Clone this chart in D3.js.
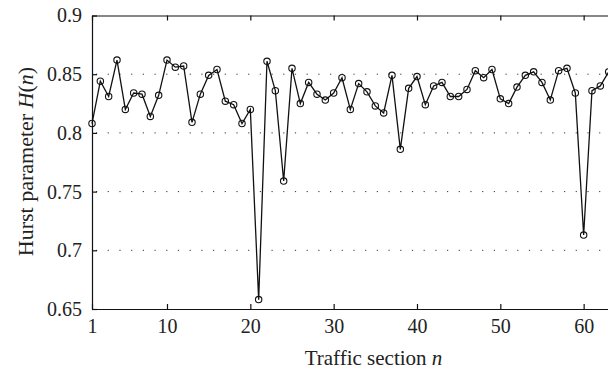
<!DOCTYPE html>
<html>
<head>
<meta charset="utf-8">
<script src="https://cdn.jsdelivr.net/npm/d3@7"></script>
<style>
  body { margin: 0; background: #fff; }
  svg { display: block; overflow: hidden; }
</style>
</head>
<body>
<div id="holder"></div>
<script>
// traffic sections and their Hurst parameter
var sections = d3.range(1, 64);
var hurst = [
  0.808, 0.844, 0.831, 0.862, 0.820, 0.834, 0.833, 0.814, 0.832, 0.862,
  0.856, 0.857, 0.809, 0.833, 0.849, 0.854, 0.827, 0.824, 0.808, 0.820,
  0.658, 0.861, 0.836, 0.759, 0.855, 0.825, 0.843, 0.833, 0.828, 0.834,
  0.847, 0.820, 0.842, 0.835, 0.823, 0.817, 0.849, 0.786, 0.838, 0.848,
  0.824, 0.840, 0.843, 0.831, 0.831, 0.837, 0.853, 0.847, 0.854, 0.829,
  0.825, 0.839, 0.849, 0.852, 0.843, 0.828, 0.853, 0.855, 0.834, 0.713,
  0.836, 0.840, 0.852
];
var xTicks = [1, 10, 20, 30, 40, 50, 60];
var yTicks = [0.65, 0.7, 0.75, 0.8, 0.85, 0.9];
var gridValues = [0.7, 0.75, 0.8, 0.85];

var data = sections.map(function(n, i) { return {n: n, h: hurst[i]}; });
var serif = "'Liberation Serif', 'Times New Roman', serif";

// define svg width, height, margins
var margin = {top: 15.5, right: 0, bottom: 62, left: 92},
    width = 608 - margin.left,
    height = 371 - margin.top - margin.bottom;

var svg = d3.select("#holder")
            .append("svg")
            .attr("width", 608)
            .attr("height", 371)
            .append("g")
            .attr("transform", "translate(" + margin.left + "," + margin.top + ")");

// the plot box runs past the right edge of the picture
var x = d3.scaleLinear().domain([1, 64]).range([0, 63 * 8.333]);
var y = d3.scaleLinear().domain([0.65, 0.9]).range([height, 0]);

// dotted grid
svg.append("g")
   .selectAll("line")
   .data(gridValues)
   .enter()
   .append("line")
   .attr("x1", 0)
   .attr("x2", x(64))
   .attr("y1", d => y(d))
   .attr("y2", d => y(d))
   .attr("stroke", "#333")
   .attr("stroke-width", 1)
   .attr("stroke-dasharray", "1.2,10.5")
   .attr("stroke-dashoffset", -4);

// axes with inward ticks
var xAxisBottom = svg.append("g")
   .attr("transform", "translate(0," + height + ")")
   .call(d3.axisBottom(x).tickValues(xTicks).tickSize(-5).tickSizeOuter(0).tickPadding(10));
var xAxisTop = svg.append("g")
   .call(d3.axisTop(x).tickValues(xTicks).tickSize(-5).tickSizeOuter(0).tickFormat(""));
var yAxis = svg.append("g")
   .call(d3.axisLeft(y).tickValues(yTicks).tickSize(-5).tickSizeOuter(0).tickPadding(10)
           .tickFormat(d => String(d)));

[xAxisBottom, xAxisTop, yAxis].forEach(function(g) {
  g.attr("font-family", null);
  g.select(".domain").attr("stroke", "#111").attr("stroke-width", 1.2);
  g.selectAll(".tick line").attr("stroke", "#111").attr("stroke-width", 1.2);
  g.selectAll(".tick text")
   .style("font-family", serif)
   .style("font-size", "20px")
   .attr("fill", "#222");
});

// line and markers
svg.append("path")
   .datum(data)
   .attr("fill", "none")
   .attr("stroke", "#111")
   .attr("stroke-width", 1.3)
   .attr("d", d3.line().x(d => x(d.n)).y(d => y(d.h)));

svg.append("g")
   .selectAll("circle")
   .data(data)
   .enter()
   .append("circle")
   .attr("cx", d => x(d.n))
   .attr("cy", d => y(d.h))
   .attr("r", 3.2)
   .attr("fill", "none")
   .attr("stroke", "#111")
   .attr("stroke-width", 1.1);

// axis titles
svg.append("text")
   .attr("x", 373.5 - margin.left)
   .attr("y", 365 - margin.top)
   .attr("text-anchor", "middle")
   .attr("fill", "#222")
   .style("font-family", serif)
   .style("font-size", "21px")
   .html("Traffic section <tspan font-style='italic'>n</tspan>");

svg.append("text")
   .attr("transform", "translate(" + (33 - margin.left) + "," + (161.5 - margin.top) + ") rotate(-90)")
   .attr("text-anchor", "middle")
   .attr("fill", "#222")
   .style("font-family", serif)
   .style("font-size", "22px")
   .html("Hurst parameter <tspan font-style='italic'>H</tspan>(<tspan font-style='italic'>n</tspan>)");
</script>
</body>
</html>
